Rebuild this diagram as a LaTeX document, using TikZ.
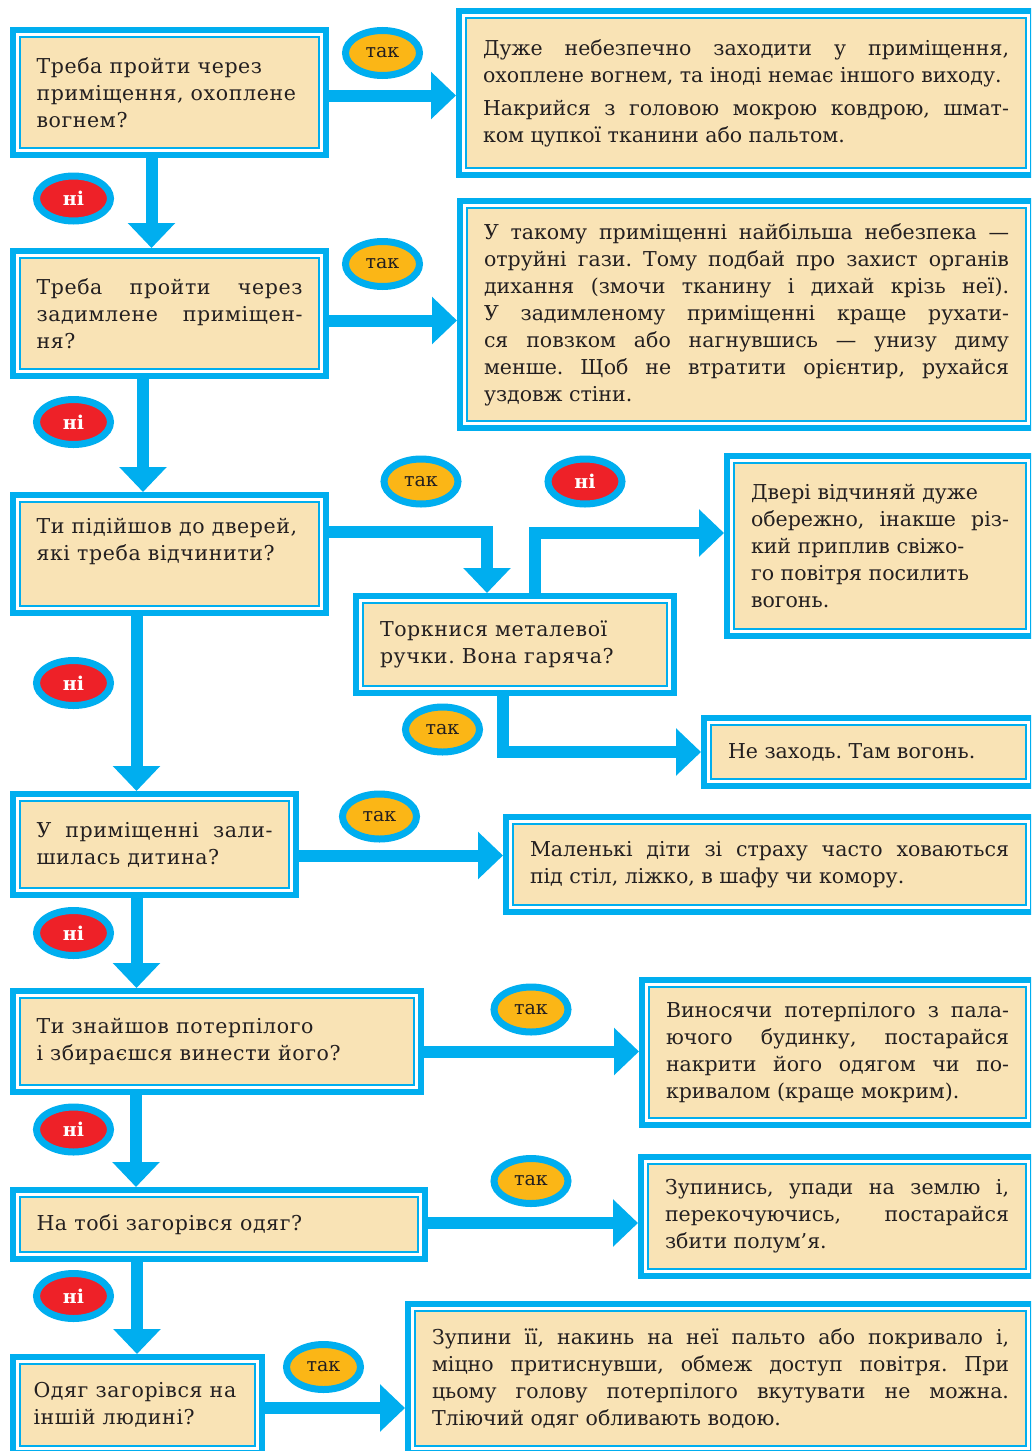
\documentclass[tikz,border=0pt]{standalone}
\usepackage{fontspec}
\setmainfont{DejaVu Serif}
\usepackage{xcolor}
\definecolor{flowCyan}{HTML}{00AEEF}
\definecolor{boxBeige}{HTML}{F9E3B5}
\definecolor{yesYellow}{HTML}{FBB616}
\definecolor{noRed}{HTML}{EE2128}
\definecolor{textDark}{HTML}{231F20}
\usepackage{tikz}
\usetikzlibrary{shapes,arrows.meta,positioning}
\frenchspacing
\newcommand\bodyfont{\fontsize{20.5}{27}\selectfont\hyphenpenalty=10000\relax}
\newcommand\tagfont{\fontsize{19}{22}\selectfont}
\tikzset{
    framebox/.style={
        rectangle,
        anchor=north west,
        fill=boxBeige,
        draw=flowCyan,
        line width=2pt,
        preaction={draw=flowCyan, line width=20pt},
        preaction={draw=white, line width=8pt},
        outer sep=10pt,
        inner sep=0pt,
        align=justify,
        text=textDark
    },
    question/.style={
        framebox,
        font=\bodyfont\addfontfeature{LetterSpace=3}
    },
    advice/.style={
        framebox,
        font=\bodyfont
    },
    yes/.style={
        ellipse,
        draw=flowCyan,
        fill=yesYellow,
        line width=7pt,
        minimum width=74pt,
        minimum height=45pt,
        inner sep=0pt,
        text=textDark,
        font=\tagfont
    },
    no/.style={
        yes,
        fill=noRed,
        text=white,
        font=\tagfont\bfseries
    },
    arrow/.style={
        ->,
        >={Triangle[width=46pt,length=25pt]},
        line width=12pt,
        color=flowCyan
    }
}
\begin{document}
\begin{tikzpicture}[x=1pt, y=-1pt]
    \useasboundingbox (0,0) rectangle (1031,1451);
    \clip (0,0) rectangle (1031,1451);

    % Questions
    \node[question, minimum width=299pt, minimum height=111pt, text width=266pt] (qfire) at (10,27)
        {Треба пройти через\newline приміщення, охоплене\newline вогнем?};
    \node[question, minimum width=299pt, minimum height=111pt, text width=266pt] (qsmoke) at (10,248)
        {Треба пройти через\linebreak задимлене приміщен-\linebreak ня?};
    \node[question, minimum width=299pt, minimum height=104pt, text width=266pt] (qdoor) at (10,492)
        {Ти підійшов до дверей,\newline які треба відчинити?\par\vspace*{26pt}};
    \node[question, minimum width=304pt, minimum height=83pt, text width=270pt] (qhandle) at (353,593)
        {Торкнися металевої\newline ручки. Вона гаряча?};
    \node[question, minimum width=269pt, minimum height=87pt, text width=236pt] (qchild) at (10,791)
        {У приміщенні зали-\linebreak шилась дитина?};
    \node[question, minimum width=394pt, minimum height=87pt, text width=361pt] (qvictim) at (10,988)
        {Ти знайшов потерпілого\newline і збираєшся винести його?};
    \node[question, minimum width=398pt, minimum height=55pt, text width=365pt] (qclothes) at (10,1187)
        {На тобі загорівся одяг?};
    \node[question, minimum width=235pt, minimum height=82pt, text width=208pt] (qother) at (10,1354)
        {Одяг загорівся на\newline іншій людині?};

    % Advice
    \node[advice, minimum width=560pt, minimum height=150pt, text width=526pt] (afire) at (456,8)
        {Дуже небезпечно заходити у приміщення,\linebreak охоплене вогнем, та іноді немає іншого виходу.\par\vspace{6pt}Накрийся з головою мокрою ковдрою, шмат-\linebreak ком цупкої тканини або пальтом.};
    \node[advice, minimum width=559pt, minimum height=213pt, text width=525pt] (asmoke) at (457,198)
        {У такому приміщенні найбільша небезпека —\linebreak отруйні гази. Тому подбай про захист органів\linebreak дихання (змочи тканину і дихай крізь неї).\linebreak У задимленому приміщенні краще рухати-\linebreak ся повзком або нагнувшись — унизу диму\linebreak менше. Щоб не втратити орієнтир, рухайся\linebreak уздовж стіни.};
    \node[advice, minimum width=292pt, minimum height=166pt, text width=258pt] (ahot) at (724,453)
        {Двері відчиняй дуже\newline обережно, інакше різ-\linebreak кий приплив свіжо-\newline го повітря посилить\newline вогонь.};
    \node[advice, minimum width=315pt, minimum height=54pt, text width=281pt] (anoenter) at (701,715)
        {Не заходь. Там вогонь.};
    \node[advice, minimum width=513pt, minimum height=81pt, text width=479pt] (achild) at (503,814)
        {Маленькі діти зі страху часто ховаються\linebreak під стіл, ліжко, в шафу чи комору.};
    \node[advice, minimum width=377pt, minimum height=131pt, text width=343pt] (avictim) at (639,977)
        {Виносячи потерпілого з пала-\linebreak ючого будинку, постарайся\linebreak накрити його одягом чи по-\linebreak кривалом (краще мокрим).};
    \node[advice, minimum width=378pt, minimum height=105pt, text width=344pt] (aclothes) at (638,1154)
        {Зупинись, упади на землю і,\linebreak перекочуючись, постарайся\linebreak збити полум’я.};
    \node[advice, minimum width=611pt, minimum height=135pt, text width=577pt] (aother) at (405,1301)
        {Зупини її, накинь на неї пальто або покривало і,\linebreak міцно притиснувши, обмеж доступ повітря. При\linebreak цьому голову потерпілого вкутувати не можна.\linebreak Тліючий одяг обливають водою.};

    % Arrows
    \draw[arrow] ([xshift=-18pt]qfire.south) -- ([xshift=-18pt]qfire.south |- qsmoke.north);
    \draw[arrow] ([xshift=-26.5pt]qsmoke.south) -- ([xshift=-26.5pt]qsmoke.south |- qdoor.north);
    \draw[arrow] ([xshift=-33pt]qdoor.south) -- ([xshift=-33pt]qdoor.south |- qchild.north);
    \draw[arrow] ([xshift=-18pt]qchild.south) -- ([xshift=-18pt]qchild.south |- qvictim.north);
    \draw[arrow] ([xshift=-81pt]qvictim.south) -- ([xshift=-81pt]qvictim.south |- qclothes.north);
    \draw[arrow] ([xshift=-82pt]qclothes.south) -- ([xshift=-82pt]qclothes.south |- qother.north);

    \draw[arrow] ([yshift=-3pt]qfire.east) -- ([yshift=-3pt]qfire.east -| afire.west);
    \draw[arrow] ([yshift=-7pt]qsmoke.east) -- ([yshift=-7pt]qsmoke.east -| asmoke.west);
    \draw[arrow] ([yshift=-11pt]qchild.east) -- ([yshift=-11pt]qchild.east -| achild.west);
    \draw[arrow] ([yshift=-10pt]qvictim.east) -- ([yshift=-10pt]qvictim.east -| avictim.west);
    \draw[arrow] ([yshift=1.5pt]qclothes.east) -- ([yshift=1.5pt]qclothes.east -| aclothes.west);
    \draw[arrow] ([yshift=-3pt]qother.east) -- ([yshift=-3pt]qother.east -| aother.west);

    \draw[arrow] ([yshift=22.5pt]qdoor.east) -| ([xshift=-28pt]qhandle.north);
    \draw[arrow] ([xshift=19.5pt]qhandle.north) |- ([yshift=13pt]ahot.west);
    \draw[arrow] ([xshift=-12.5pt]qhandle.south) |- (anoenter.west);

    % Answers
    \node[yes] (yfire) at (382.5,53) {так};
    \node[no] (nfire) at (73.5,198.5) {ні};
    \node[yes] (ysmoke) at (382.5,264) {так};
    \node[no] (nsmoke) at (73.5,422) {ні};
    \node[yes] (ydoor) at (421,481.5) {так};
    \node[no] (nhandle) at (585,481.5) {ні};
    \node[no] (ndoor) at (73.5,683) {ні};
    \node[yes] (yhandle) at (442.5,729.5) {так};
    \node[yes] (ychild) at (379.5,816.5) {так};
    \node[no] (nchild) at (73.5,933) {ні};
    \node[yes] (yvictim) at (531,1009.5) {так};
    \node[no] (nvictim) at (73.5,1129.5) {ні};
    \node[yes] (yclothes) at (531,1181) {так};
    \node[no] (nclothes) at (73.5,1296) {ні};
    \node[yes] (yother) at (323.5,1367) {так};
\end{tikzpicture}
\end{document}
